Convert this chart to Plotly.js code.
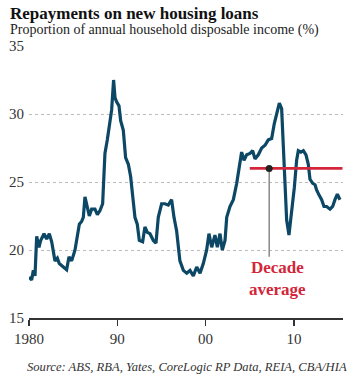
<!DOCTYPE html>
<html>
<head>
<meta charset="utf-8">
<script src="https://cdn.plot.ly/plotly-3.0.1.min.js"></script>
<style>html,body{margin:0;padding:0;background:#fff;}#chart{width:358px;height:378px;}</style>
</head>
<body>
<div id="chart"></div>
<script>
const years = [1980.00,1980.30,1980.49,1980.68,1980.87,1981.13,1981.32,1981.70,1982.00,1982.30,1982.57,1982.94,1983.21,1983.43,1983.89,1984.26,1984.53,1984.83,1985.21,1985.70,1985.96,1986.15,1986.34,1986.60,1986.83,1987.09,1987.47,1987.74,1988.04,1988.34,1988.60,1988.87,1989.17,1989.36,1989.58,1989.74,1989.92,1990.19,1990.38,1990.68,1990.94,1991.25,1991.51,1991.74,1992.00,1992.26,1992.49,1992.87,1993.13,1993.40,1993.70,1994.08,1994.38,1994.64,1995.02,1995.40,1995.77,1996.15,1996.42,1996.72,1997.09,1997.48,1997.86,1998.23,1998.61,1998.99,1999.37,1999.74,2000.12,2000.38,2000.69,2001.06,2001.33,2001.63,2001.89,2002.20,2002.39,2002.76,2003.14,2003.52,2003.82,2004.08,2004.35,2004.65,2005.03,2005.33,2005.59,2005.97,2006.35,2006.73,2007.10,2007.48,2007.78,2008.12,2008.35,2008.61,2008.80,2008.99,2009.18,2009.44,2009.75,2010.05,2010.31,2010.50,2010.80,2011.07,2011.37,2011.63,2011.82,2012.13,2012.39,2012.58,2012.88,2013.14,2013.41,2013.71,2014.09,2014.39,2014.65,2014.92,2015.22];
const repayments = [18.0,17.8,18.5,18.1,21.0,20.2,20.7,21.2,20.8,21.2,20.6,19.2,19.4,19.0,18.75,18.55,19.5,19.2,20.0,21.9,22.1,22.4,23.9,23.2,22.5,23.0,23.0,22.6,22.9,23.4,27.1,28.1,29.3,30.3,32.5,31.2,30.9,30.6,29.5,28.8,26.8,26.3,25.4,23.9,22.4,21.9,20.7,20.6,21.7,21.3,21.2,20.7,20.5,22.4,23.4,23.4,23.3,23.7,22.4,21.4,19.2,18.5,18.3,18.5,18.1,18.75,18.3,19.0,20.0,21.2,20.2,21.1,20.2,21.2,20.0,20.7,22.4,23.2,23.7,24.9,26.3,27.2,26.6,27.0,27.1,27.3,26.7,27.0,27.5,27.7,28.1,28.2,29.3,30.3,30.8,30.4,27.8,24.6,22.2,21.1,22.7,24.6,26.6,27.3,27.2,27.3,27.0,26.3,25.2,24.9,24.8,24.4,24.0,23.7,23.2,23.2,23.0,23.2,23.7,24.1,23.7];

const avgYears = [2005.0, 2015.5];
const avgValue = [26, 26];
const avgPointYear = [2007.2];
const avgPointValue = [26];
const leaderYears = [2007.2, 2007.2];
const leaderValues = [26, 19.5];

const xTickVals = [1980, 1990, 2000, 2010];
const xTickText = ['1980', '90', '00', '10'];
const yTickVals = [15, 20, 25, 30, 35];

const serif = '"Liberation Serif", "DejaVu Serif", serif';
const red = '#d3263a';

const traces = [
  {x: leaderYears, y: leaderValues, mode: 'lines', line: {color: '#777', width: 1.3}, hoverinfo: 'skip'},
  {x: years, y: repayments, mode: 'lines', line: {color: '#0c4766', width: 3.2}},
  {x: avgYears, y: avgValue, mode: 'lines', line: {color: red, width: 2.6}},
  {x: avgPointYear, y: avgPointValue, mode: 'markers', marker: {color: '#222', size: 7}}
];

const layout = {
  width: 358, height: 378,
  margin: {l: 29, r: 15, t: 46, b: 60},
  paper_bgcolor: '#fff', plot_bgcolor: '#fff',
  showlegend: false,
  font: {family: serif, color: '#333', size: 14},
  xaxis: {
    range: [1980, 2015.56], tickvals: xTickVals, ticktext: xTickText,
    showgrid: false, zeroline: false, showline: true, linecolor: '#333', linewidth: 1.5,
    ticks: 'outside', ticklen: 6, tickcolor: '#333', tickwidth: 1.2,
    tickfont: {family: serif, size: 15, color: '#333'}, fixedrange: true
  },
  yaxis: {
    range: [15, 35], tickvals: yTickVals, showgrid: true, gridcolor: '#aaa', griddash: 'dot', gridwidth: 0.8,
    zeroline: false, showline: false, ticks: '', ticklabelstandoff: 4,
    tickfont: {family: serif, size: 15, color: '#333'}, fixedrange: true
  },
  annotations: [
    {xref: 'paper', yref: 'paper', x: -0.067, y: 1.121, xanchor: 'left', yanchor: 'middle', showarrow: false,
     text: '<b>Repayments on new housing loans</b>', font: {family: serif, size: 17, color: '#111'}},
    {xref: 'paper', yref: 'paper', x: -0.067, y: 1.059, xanchor: 'left', yanchor: 'middle', showarrow: false,
     text: 'Proportion of annual household disposable income (%)', font: {family: serif, size: 14, color: '#222'}},
    {xref: 'paper', yref: 'paper', x: -0.013, y: -0.179, xanchor: 'left', yanchor: 'middle', showarrow: false,
     text: '<i>Source: ABS, RBA, Yates, CoreLogic RP Data, REIA, CBA/HIA</i>', font: {family: serif, size: 12.6, color: '#333'}},
    {xref: 'x', yref: 'y', x: 2008.1, y: 17.9, xanchor: 'center', yanchor: 'middle', showarrow: false,
     text: '<b>Decade<br>average</b>', font: {family: serif, size: 17, color: red}}
  ]
};

Plotly.newPlot('chart', traces, layout, {displayModeBar: false, staticPlot: true});
</script>
</body>
</html>
